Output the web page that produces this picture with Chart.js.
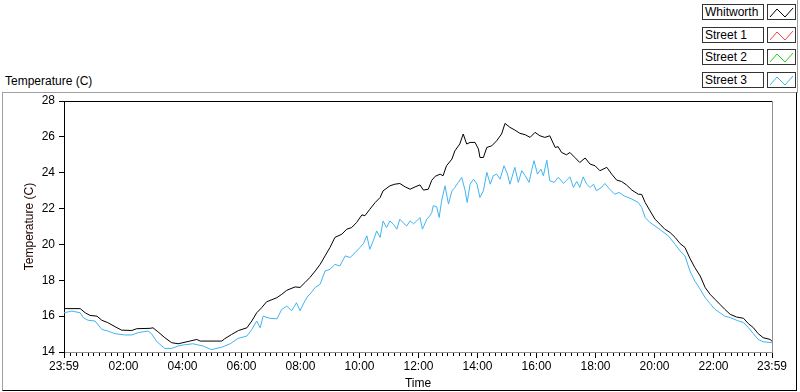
<!DOCTYPE html>
<html>
<head>
<meta charset="utf-8">
<script src="https://cdn.jsdelivr.net/npm/chart.js@4.4.1/dist/chart.umd.min.js"></script>
<style>
  html, body { margin: 0; padding: 0; background: #fff; }
  body { width: 800px; height: 392px; position: relative; overflow: hidden;
         font-family: "Liberation Sans", Arial, sans-serif; font-size: 12px; color: #000; }
  .frame { position: absolute; left: 2px; top: 92px; width: 793px; height: 297px;
           border-left: 1px solid #a0a0a0; border-top: 1px solid #a0a0a0;
           border-right: 1px solid #000; border-bottom: 1px solid #000; }
  .legend-edge { position: absolute; left: 797px; top: 0; width: 1px; height: 93px; background: #a0a0a0; }
  .chart-title { position: absolute; left: 5px; top: 74px; }
  canvas { position: absolute; left: 0; top: 0; }
  .lg-text { position: absolute; left: 702px; width: 58px; height: 14px; line-height: 14px;
             padding-left: 2px; border: 1px solid #333; background: #fff; white-space: nowrap; }
  .lg-icon { position: absolute; left: 767px; width: 27px; height: 14px; border: 1px solid #333; background: #fff; }
  .lg-icon svg { display: block; }
</style>
</head>
<body>
<div class="frame"></div>
<div class="legend-edge"></div>
<div class="chart-title">Temperature (C)</div>
<canvas id="chart" width="800" height="392"></canvas>
<div id="legend"></div>
<script>
// minutes after 23:59 of previous day
const tickMinutes = [0, 121, 241, 361, 481, 601, 721, 841, 961, 1081, 1201, 1321, 1440];
const tickLabels = ['23:59', '02:00', '04:00', '06:00', '08:00', '10:00', '12:00', '14:00', '16:00', '18:00', '20:00', '22:00', '23:59'];
const yTicks = [14, 16, 18, 20, 22, 24, 26, 28];

const seriesNames = ['Whitworth', 'Street 1', 'Street 2', 'Street 3'];
const seriesColors = ['#000000', '#ff4040', '#20d020', '#40b4f0'];

const whitworthMin = [0,33,43,53,67,77,89,104,117,138,148,175,181,191,205,219,232,242,256,270,
  277,297,321,327,341,355,372,382,392,402,412,433,443,453,470,480,490,500,511,521,
  531,541,551,565,575,585,595,606,612,622,633,643,649,663,673,683,694,704,714,724,
  731,741,748,755,765,771,778,789,795,805,812,819,826,836,843,846,853,860,870,880,
  890,897,907,917,927,938,948,958,968,978,988,999,1005,1012,1022,1029,1039,1049,1060,1070,
  1080,1090,1104,1114,1124,1134,1144,1155,1168,1175,1182,1192,1202,1212,1222,1233,1243,1253,1263,1273,
  1283,1294,1304,1314,1324,1334,1344,1355,1368,1382,1392,1402,1412,1422,1436,1440];
const whitworthTemp = [16.42,16.42,16.19,16.04,16.0,15.77,15.64,15.41,15.22,15.2,15.3,15.32,15.35,15.13,14.8,14.52,14.46,14.52,14.61,14.7,
  14.61,14.61,14.61,14.74,14.98,15.2,15.35,15.73,16.19,16.47,16.8,17.03,17.22,17.44,17.63,17.6,17.87,18.15,18.52,18.89,
  19.36,19.83,20.39,20.57,20.85,20.94,21.22,21.65,21.6,21.96,22.34,22.62,22.99,23.27,23.36,23.4,23.21,23.08,23.21,23.32,
  23.03,23.08,23.58,23.8,23.92,23.83,24.39,24.76,25.22,25.6,26.16,25.6,25.69,25.69,25.32,24.85,24.85,25.41,25.5,25.78,
  26.16,26.75,26.53,26.38,26.2,26.12,25.97,26.25,26.06,25.97,26.06,25.41,25.45,25.13,25.0,25.13,24.85,24.57,24.82,24.48,
  24.39,24.11,24.3,23.92,23.59,23.51,23.32,23.03,22.8,22.79,22.34,21.87,21.41,21.13,20.85,20.66,20.39,20.05,19.83,19.23,
  18.71,18.24,17.6,17.22,16.94,16.66,16.38,16.1,15.95,15.88,15.58,15.36,15.02,14.8,14.7,14.6];

const street3Min = [0,16,33,39,49,63,77,89,104,124,138,151,171,178,189,205,219,232,242,262,
  283,300,321,338,354,372,382,392,399,405,419,433,443,453,463,473,480,490,496,500,
  511,521,531,541,551,561,572,582,592,602,609,616,622,629,636,643,649,656,663,670,
  677,683,690,697,704,711,717,724,729,738,744,748,751,758,763,768,775,782,789,795,
  802,809,816,820,826,833,840,846,853,860,867,873,880,887,895,902,907,917,924,931,
  938,946,951,956,963,970,975,982,988,997,1005,1009,1016,1022,1029,1036,1043,1049,1056,1063,
  1070,1077,1083,1094,1100,1110,1120,1129,1139,1155,1168,1175,1182,1192,1202,1216,1229,1243,1253,1263,
  1273,1283,1294,1304,1314,1324,1334,1344,1355,1368,1382,1392,1402,1412,1422,1440];
const street3Temp = [16.19,16.28,16.19,15.92,15.77,15.73,15.26,15.17,15.02,14.95,14.95,15.08,15.17,15.02,14.57,14.2,14.2,14.33,14.39,14.46,
  14.33,14.13,14.27,14.46,14.76,14.89,15.26,15.73,15.35,16.0,15.88,15.85,16.38,16.56,16.3,16.75,16.3,16.85,17.12,17.22,
  17.6,17.78,18.52,18.61,18.89,18.8,19.36,19.27,19.54,19.83,20.05,20.48,19.73,20.2,20.75,20.39,21.31,20.94,21.31,21.13,
  20.85,21.41,21.2,21.03,21.31,21.15,21.3,21.5,20.85,21.41,21.6,21.78,22.16,22.1,21.5,22.43,23.27,22.25,22.99,23.18,
  23.46,23.74,22.99,22.34,23.36,23.64,23.36,22.62,22.99,24.02,23.36,23.83,23.92,23.64,24.39,23.92,23.36,24.3,23.46,24.11,
  23.83,23.46,24.11,24.67,23.92,24.2,23.83,24.7,23.55,23.46,23.74,23.64,23.4,23.58,23.77,23.18,23.51,23.18,23.77,23.36,
  23.18,23.36,22.99,23.2,23.4,23.08,22.8,22.9,22.71,22.53,22.34,22.06,21.5,21.22,21.03,20.75,20.48,20.0,19.64,19.36,
  18.52,17.96,17.5,17.03,16.7,16.38,16.19,16.0,15.92,15.77,15.64,15.36,15.02,14.7,14.57,14.52];

const street1Min = [], street1Temp = [];
const street2Min = [], street2Temp = [];

const zip = (xs, ys) => xs.map((x, i) => ({ x: x, y: ys[i] }));

// minor ticks every 12 minutes, aligned with 00:00
const minorTicks = [];
for (let m = 1; m < 1440; m += 12) minorTicks.push(m);

const plotFrame = {
  id: 'plotFrame',
  afterDraw(chart) {
    const { ctx, chartArea: a } = chart;
    ctx.save();
    ctx.lineWidth = 1;
    ctx.strokeStyle = '#000';
    ctx.beginPath();
    ctx.moveTo(a.left, Math.floor(a.top) + 0.5);
    ctx.lineTo(a.right, Math.floor(a.top) + 0.5);
    ctx.stroke();
    ctx.strokeStyle = '#909090';
    ctx.beginPath();
    ctx.moveTo(Math.floor(a.right) + 0.5, a.top);
    ctx.lineTo(Math.floor(a.right) + 0.5, a.bottom);
    ctx.stroke();
    ctx.restore();
  }
};

const font = { family: '"Liberation Sans", Arial, sans-serif', size: 12 };

new Chart(document.getElementById('chart'), {
  type: 'line',
  data: {
    datasets: [
      { label: seriesNames[0], data: zip(whitworthMin, whitworthTemp), borderColor: seriesColors[0] },
      { label: seriesNames[1], data: zip(street1Min, street1Temp), borderColor: seriesColors[1] },
      { label: seriesNames[2], data: zip(street2Min, street2Temp), borderColor: seriesColors[2] },
      { label: seriesNames[3], data: zip(street3Min, street3Temp), borderColor: seriesColors[3] }
    ]
  },
  options: {
    responsive: false,
    animation: false,
    layout: { padding: { left: 22, top: 101, right: 28, bottom: 1 } },
    elements: { point: { radius: 0 }, line: { borderWidth: 1, tension: 0 } },
    plugins: { legend: { display: false }, tooltip: { enabled: false } },
    scales: {
      x: {
        type: 'linear', min: 0, max: 1440,
        afterBuildTicks: s => { s.ticks = tickMinutes.map(v => ({ value: v })); },
        afterFit: s => { s.height = 39; },
        ticks: {
          autoSkip: false, maxRotation: 0, padding: 1, color: '#000', font: font,
          callback: v => tickLabels[tickMinutes.indexOf(v)]
        },
        grid: { drawOnChartArea: false, drawTicks: true, tickLength: 6, tickColor: '#000' },
        border: { display: true, color: '#909090' },
        title: { display: true, text: 'Time', color: '#000', font: font, padding: { top: 0, bottom: 0 } }
      },
      xm: {
        type: 'linear', min: 0, max: 1440, position: { y: 14 },
        afterBuildTicks: s => { s.ticks = minorTicks.map(v => ({ value: v })); },
        ticks: { display: false },
        grid: { drawOnChartArea: false, drawTicks: true, tickLength: 4, tickColor: '#000' },
        border: { display: false }
      },
      y: {
        min: 14, max: 28,
        afterBuildTicks: s => { s.ticks = yTicks.map(v => ({ value: v })); },
        afterFit: s => { s.width = 42; },
        ticks: { padding: 4, color: '#000', font: font },
        grid: { drawOnChartArea: false, drawTicks: true, tickLength: 5, tickColor: '#000' },
        border: { display: true, color: '#000' },
        title: { display: true, text: 'Temperature (C)', color: '#200000', font: font, padding: { top: 0, bottom: 0 } }
      }
    }
  },
  plugins: [plotFrame]
});

// legend boxes, drawn like the instrument panel legend
const legend = document.getElementById('legend');
seriesNames.forEach((name, i) => {
  const top = 4 + Math.round(i * 22.6);
  const t = document.createElement('div');
  t.className = 'lg-text';
  t.style.top = top + 'px';
  t.textContent = name;
  legend.appendChild(t);
  const ic = document.createElement('div');
  ic.className = 'lg-icon';
  ic.style.top = top + 'px';
  ic.innerHTML = '<svg width="27" height="14"><polyline points="2,12 9,4 17,12 25,3" fill="none" stroke="' +
    seriesColors[i] + '" stroke-width="1"/></svg>';
  legend.appendChild(ic);
});
</script>
</body>
</html>
